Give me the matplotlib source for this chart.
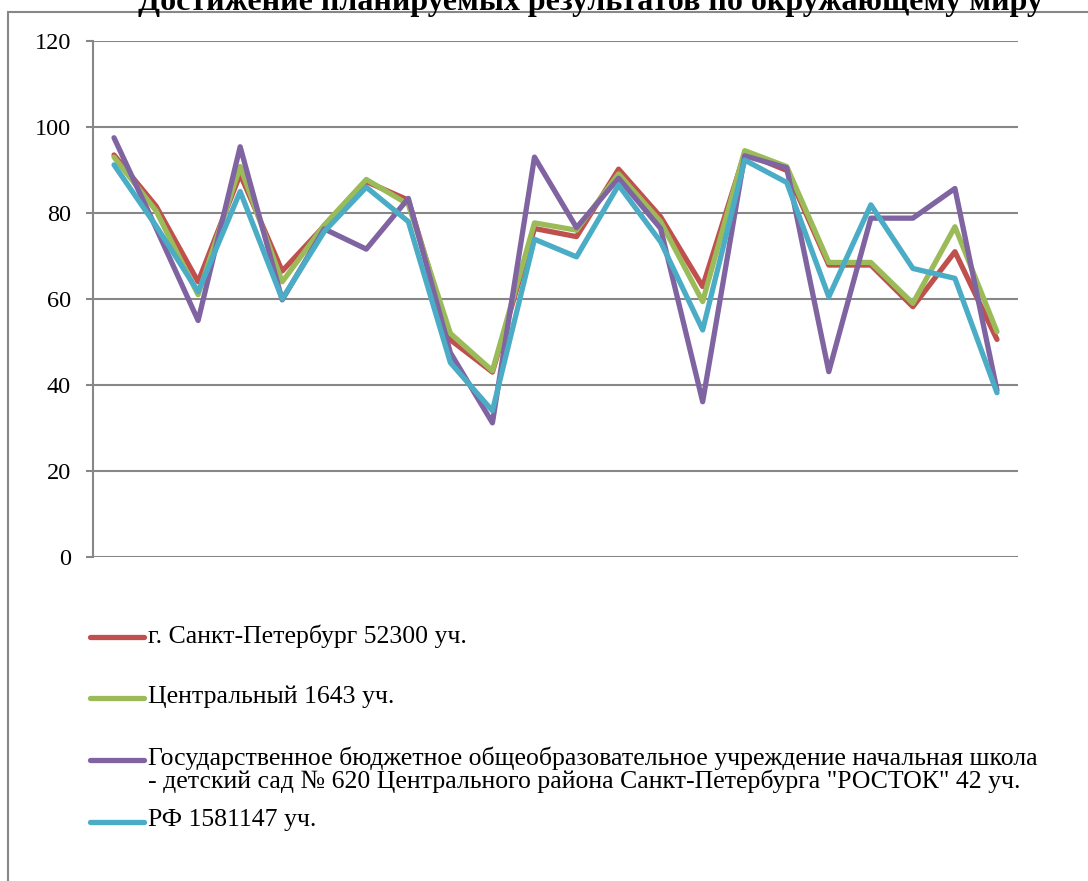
import numpy as np
import matplotlib
matplotlib.use("Agg")
import matplotlib.pyplot as plt
from matplotlib.lines import Line2D
from matplotlib.patches import Rectangle

plt.rcParams['font.family'] = ['Liberation Serif', 'DejaVu Serif']

# values (22 tasks)
tasks = list(range(1, 23))
spb = [93.5, 81.6, 64, 89, 66.5, 77, 87.3, 83, 50.5, 43, 76.4, 74.5,
       90.2, 79.1, 62.9, 93.9, 89.9, 67.9, 67.9, 58.2, 71, 50.6]
central = [93, 80.5, 61, 90.8, 64, 77.2, 87.8, 82, 52, 43.3, 77.7, 76,
           89.1, 78, 59.4, 94.5, 90.8, 68.5, 68.5, 59, 76.8, 52.4]
school = [97.5, 76.5, 55, 95.4, 59.8, 76.3, 71.6, 83.4, 47.5, 31.2, 93, 76.6,
          88.1, 76.4, 36.1, 93.3, 90.5, 43.1, 78.8, 78.8, 85.7, 38.8]
rf = [91.2, 77, 61.7, 85, 60, 75.7, 86, 78, 45.2, 34, 73.9, 69.8,
      86.5, 73.3, 52.8, 92.3, 87.1, 60.5, 81.9, 67.1, 64.8, 38.2]

labels = [
    "г. Санкт-Петербург 52300 уч.",
    "Центральный 1643 уч.",
    "Государственное бюджетное общеобразовательное учреждение начальная школа\n"
    "- детский сад № 620 Центрального района Санкт-Петербурга \"РОСТОК\" 42 уч.",
    "РФ 1581147 уч.",
]
colors = ["#C0504D", "#9BBB59", "#8064A2", "#4BACC6"]
series = [spb, central, school, rf]
yticks = [0, 20, 40, 60, 80, 100, 120]

W, H = 1088, 881
fig = plt.figure(figsize=(W / 100, H / 100), dpi=100)
ax = fig.add_axes([93 / W, 1 - 557 / H, 925 / W, 516 / H])

x = np.arange(len(tasks))
for vals, c in zip(series, colors):
    ax.plot(x, vals, color=c, lw=3.8, solid_joinstyle='round', solid_capstyle='round')

ax.set_xlim(-0.5, len(tasks) - 0.5)
ax.set_ylim(0, 120)
ax.set_yticks(yticks)
ax.set_xticks([])
ax.grid(axis='y', color='#878787', lw=1.5)
ax.set_axisbelow(True)
for s in ['top', 'right', 'bottom']:
    ax.spines[s].set_visible(False)
ax.spines['left'].set_color('#878787')
ax.spines['left'].set_linewidth(1.5)
ax.tick_params(axis='y', length=5, width=1.5, color='#878787', pad=11, labelsize=17.5)

# outer chart frame (cut off at right/bottom)
fig.patches.append(Rectangle((8 / W, -0.1), 1.2, 1 - 12 / H + 0.1, transform=fig.transFigure,
                             fill=False, ec='#878787', lw=1.5))

fig.text(590 / W, 1 - 10 / H, "Достижение планируемых результатов по окружающему миру",
         ha='center', va='baseline', fontsize=23, fontweight='bold')

# legend below the plot
ys = [637, 698, 760, 822]
for lab, c, yy in zip(labels, colors, ys):
    fy = 1 - yy / H
    fig.lines.append(Line2D([90 / W, 144 / W], [fy, fy], transform=fig.transFigure,
                            color=c, lw=3.8, solid_capstyle='round'))
    fig.text(148 / W, 1 - (yy - 13) / H, lab, ha='left', va='top', fontsize=18.5,
             linespacing=0.92)

fig.savefig("out.png", dpi=100)
